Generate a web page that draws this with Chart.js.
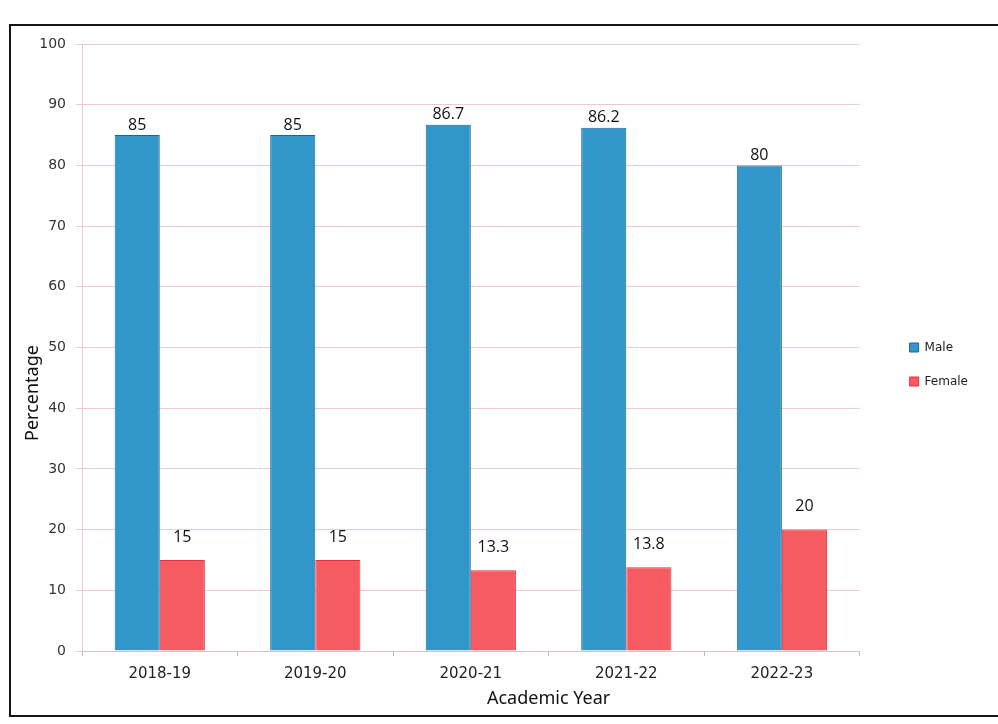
<!DOCTYPE html>
<html>
<head>
<meta charset="utf-8">
<script src="https://cdn.jsdelivr.net/npm/chart.js@4.4.1/dist/chart.umd.min.js"></script>
<style>
  html, body { margin: 0; padding: 0; background: #fff; overflow: hidden; }
  #frame {
    position: absolute; left: 9px; top: 24px; width: 1000px; height: 693px;
    border: 2px solid #151515; box-sizing: border-box;
  }
  #wrap { position: absolute; left: 0; top: 0; width: 998px; height: 724px; }
</style>
</head>
<body>
<div id="frame"></div>
<div id="wrap"><canvas id="graf_gender"></canvas></div>
<script>
var years = ['2018-19', '2019-20', '2020-21', '2021-22', '2022-23'];
var male = [85, 85, 86.7, 86.2, 80];
var female = [15, 15, 13.3, 13.8, 20];
var yTicks = [0, 10, 20, 30, 40, 50, 60, 70, 80, 90, 100];
var xTitle = 'Academic Year';
var yTitle = 'Percentage';

// value labels above each bar
var barLabels = {
	id: 'barLabels',
	afterDatasetsDraw: function(chart) {
		var ctx = chart.ctx;
		ctx.save();
		ctx.fillStyle = '#111';
		ctx.font = '16px "Open Sans"';
		ctx.textAlign = 'center';
		ctx.textBaseline = 'bottom';
		chart.data.datasets.forEach(function(ds, i) {
			var meta = chart.getDatasetMeta(i);
			meta.data.forEach(function(bar, j) {
				ctx.fillText(String(ds.data[j]), bar.x, bar.y - ds.labelGap);
			});
		});
		ctx.restore();
	}
};

// axis titles: the x title sits right of centre, the y title a bit below middle
var axisTitles = {
	id: 'axisTitles',
	afterLayout: function(chart) {
		// lift the legend a little
		chart.legend.top -= 12;
		chart.legend.bottom -= 12;
	},
	afterDraw: function(chart) {
		var ctx = chart.ctx;
		var x = chart.scales.x, y = chart.scales.y;
		ctx.save();
		ctx.fillStyle = '#111';
		ctx.font = '18px "Noto Sans"';
		ctx.textAlign = 'center';
		ctx.textBaseline = 'middle';
		ctx.fillText(xTitle, x.getPixelForValue(2.5), x.bottom - 10);
		ctx.translate(y.left + 13, y.getPixelForValue(42.5));
		ctx.rotate(-Math.PI / 2);
		ctx.fillText(yTitle, 0, 0);
		ctx.restore();
	}
};

var gridColor = '#ebcbd0';

var chartdata = {
	labels: years,
	datasets: [
		{
			label: 'Male',
			backgroundColor: '#3197cb',
			borderColor: '#1c6399',
			borderWidth: 1,
			labelGap: 2,
			data: male
		},
		{
			label: 'Female',
			backgroundColor: '#f55b60',
			borderColor: '#ea2f3d',
			borderWidth: 1,
			labelGap: 15,
			data: female
		}
	]
};

var ctx = document.getElementById('graf_gender');

var barGraph = new Chart(ctx, {
	type: 'bar',
	data: chartdata,
	plugins: [barLabels, axisTitles],
	options: {
		responsive: true,
		maintainAspectRatio: false,
		animation: false,
		layout: { padding: { left: 20, top: 44, right: 20, bottom: 15 } },
		datasets: {
			bar: { categoryPercentage: 0.58, barPercentage: 1.0 }
		},
		plugins: {
			tooltip: { enabled: false },
			legend: {
				position: 'right',
				align: 'center',
				labels: {
					boxWidth: 9,
					boxHeight: 9,
					padding: 22,
					color: '#222',
					font: { family: '"DejaVu Sans"', size: 12 }
				}
			}
		},
		scales: {
			x: {
				afterFit: function(scale) { scale.height = 58; },
				grid: {
					drawOnChartArea: false,
					drawTicks: true,
					tickLength: 5,
					color: '#c9b9bb'
				},
				border: { color: '#d9c2c5' },
				ticks: {
					padding: 9,
					color: '#222',
					font: { family: '"DejaVu Sans"', size: 15 }
				}
			},
			y: {
				min: 0,
				max: 100,
				afterBuildTicks: function(scale) {
					scale.ticks = yTicks.map(function(v) { return { value: v }; });
				},
				afterFit: function(scale) { scale.width = 62; },
				grid: {
					color: gridColor,
					tickLength: 6
				},
				border: { color: gridColor },
				ticks: {
					padding: 10,
					color: '#333',
					font: { family: '"DejaVu Sans"', size: 14 }
				}
			},
			// empty axis that keeps the legend away from the plot
			spacer: {
				type: 'linear',
				position: 'right',
				display: true,
				grid: { display: false },
				border: { display: false },
				ticks: { display: false },
				afterFit: function(scale) { scale.width = 28; }
			}
		}
	}
});
</script>
</body>
</html>
